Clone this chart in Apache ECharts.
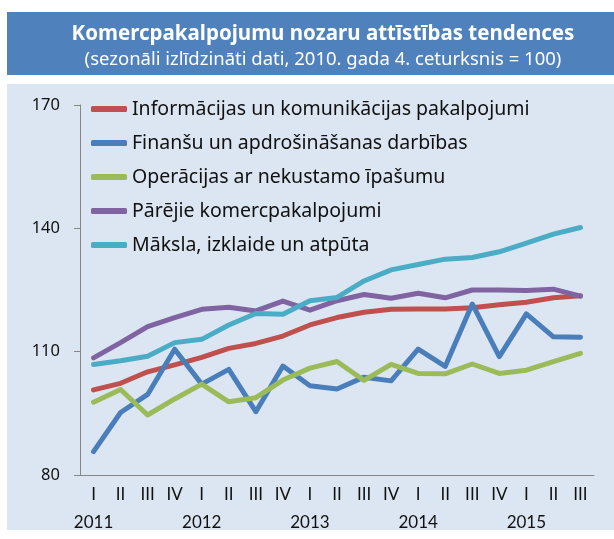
<!DOCTYPE html>
<html>
<head>
<meta charset="utf-8">
<script src="https://cdn.jsdelivr.net/npm/echarts@6/dist/echarts.min.js"></script>
<style>
  html, body { margin: 0; padding: 0; background: #fff; }
  #chart { width: 614px; height: 539px; }
</style>
</head>
<body>
<div id="chart"></div>
<script>
// ceturkšņi un gadi
var quarters = ['I','II','III','IV','I','II','III','IV','I','II','III','IV','I','II','III','IV','I','II','III'];
var years = ['2011','','','','2012','','','','2013','','','','2014','','','','2015','',''];
var yTicks = [80, 110, 140, 170];

var names = [
  'Informācijas un komunikācijas pakalpojumi',
  'Finanšu un apdrošināšanas darbības',
  'Operācijas ar nekustamo īpašumu',
  'Pārējie komercpakalpojumi',
  'Māksla, izklaide un atpūta'
];

var infoKom = [100.7, 102.3, 105.1, 106.8, 108.6, 110.8, 112.0, 113.8, 116.5, 118.3, 119.6, 120.3, 120.4, 120.4, 120.7, 121.4, 122.0, 123.1, 123.6];
var finanses = [85.7, 95.2, 99.6, 110.6, 102.1, 105.7, 95.4, 106.5, 101.7, 100.9, 103.8, 102.9, 110.6, 106.4, 121.6, 108.8, 119.2, 113.6, 113.5];
var ipasums = [97.7, 100.8, 94.6, 98.5, 102.1, 97.8, 98.8, 103.1, 106.0, 107.6, 103.0, 106.9, 104.7, 104.6, 107.0, 104.7, 105.5, 107.6, 109.6];
var parejie = [108.5, 112.2, 116.1, 118.3, 120.3, 120.8, 119.9, 122.3, 120.1, 122.4, 123.9, 123.0, 124.2, 123.1, 125.0, 125.0, 124.9, 125.2, 123.5];
var maksla = [106.9, 107.8, 108.9, 112.2, 113.0, 116.5, 119.3, 119.1, 122.4, 123.2, 127.2, 129.9, 131.2, 132.5, 132.9, 134.3, 136.4, 138.6, 140.2];

var colors = ['#C0504D', '#4A7EBB', '#9BBB59', '#8064A2', '#4BACC6'];
var seriesData = [infoKom, finanses, ipasums, parejie, maksla];
var font = 'Noto Sans';

function mkSeries(i) {
  return {
    name: names[i],
    type: 'line',
    data: seriesData[i],
    symbol: 'none',
    lineStyle: { width: 5, color: colors[i], cap: 'round', join: 'round' },
    itemStyle: { color: colors[i] }
  };
}

var chart = echarts.init(document.getElementById('chart'));
var option = {
  animation: false,
  textStyle: { fontFamily: font },
  graphic: [
    { type: 'rect', shape: { x: 7, y: 12, width: 607, height: 63 }, style: { fill: '#4F81BD' }, z: -10 },
    { type: 'rect', shape: { x: 7, y: 84, width: 607, height: 446 }, style: { fill: '#DCE6F2' }, z: -10 }
  ],
  title: {
    text: 'Komercpakalpojumu nozaru attīstības tendences',
    subtext: '(sezonāli izlīdzināti dati, 2010. gada 4. ceturksnis = 100)',
    left: 318,
    top: 19,
    textAlign: 'center',
    itemGap: 5,
    textStyle: { color: '#fff', fontSize: 20.5, fontWeight: 'bold', fontFamily: font },
    subtextStyle: { color: '#fff', fontSize: 18.5, fontFamily: font }
  },
  legend: {
    orient: 'vertical',
    left: 86,
    top: 93,
    icon: 'roundRect',
    itemWidth: 36,
    itemHeight: 6,
    itemGap: 12,
    textStyle: { fontSize: 19.5, color: '#111', lineHeight: 22, fontFamily: font },
    data: names
  },
  grid: { left: 80, right: 20, top: 105, bottom: 64, outerBoundsMode: 'none' },
  xAxis: {
    type: 'category',
    data: quarters,
    boundaryGap: true,
    axisLine: { lineStyle: { color: '#868686', width: 1 } },
    axisTick: { length: 5, lineStyle: { color: '#868686' } },
    axisLabel: {
      interval: 0,
      margin: 6,
      color: '#111',
      fontSize: 17,
      fontFamily: 'Lato',
      lineHeight: 28,
      formatter: function (v, i) {
        return years[i] ? v + '\n' + years[i] : v;
      }
    }
  },
  yAxis: {
    type: 'value',
    min: yTicks[0],
    max: yTicks[yTicks.length - 1],
    interval: 30,
    splitLine: { show: false },
    axisLine: { show: true, lineStyle: { color: '#868686', width: 1 } },
    axisTick: { show: true, length: 6, lineStyle: { color: '#868686' } },
    axisLabel: { color: '#111', fontSize: 16.5, fontFamily: font, margin: 20 }
  },
  series: [mkSeries(0), mkSeries(1), mkSeries(2), mkSeries(3), mkSeries(4)]
};
chart.setOption(option);
</script>
</body>
</html>
